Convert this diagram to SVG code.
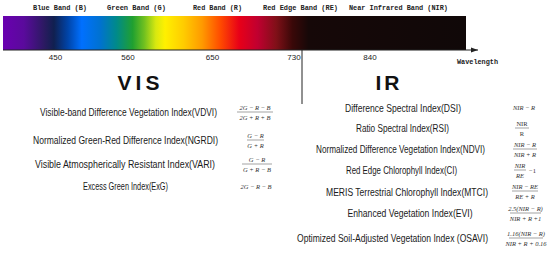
<svg xmlns="http://www.w3.org/2000/svg" width="550" height="253" viewBox="0 0 550 253">
<style>
.band{font-family:"Liberation Mono","DejaVu Sans Mono",monospace;font-weight:bold;font-size:7.5px;fill:#222}
.tick{font-family:"Liberation Sans",Arial,sans-serif;font-size:8px;fill:#222;text-anchor:middle}
.big{font-family:"Liberation Sans",Arial,sans-serif;font-weight:bold;font-size:21px;fill:#111;text-anchor:middle}
.lbl{font-family:"Liberation Sans",Arial,sans-serif;font-size:10.5px;fill:#1a1a1a;text-anchor:middle}
.f{font-family:"Liberation Serif","Times New Roman",serif;font-style:italic;font-size:6.5px;fill:#333;text-anchor:middle}
.fu{font-family:"Liberation Serif","Times New Roman",serif;font-size:6.5px;fill:#333;text-anchor:middle}
.fl{stroke:#444;stroke-width:0.5}
.ln{stroke:#222;stroke-width:1;fill:none}
</style>
<defs>
<linearGradient id="spec" x1="3" y1="0" x2="466" y2="0" gradientUnits="userSpaceOnUse">
<stop offset="0" stop-color="#6a00b0"/>
<stop offset="0.045" stop-color="#5a0a9c"/>
<stop offset="0.09" stop-color="#2a1a60"/>
<stop offset="0.11" stop-color="#102050"/>
<stop offset="0.14" stop-color="#0044a8"/>
<stop offset="0.17" stop-color="#0070ff"/>
<stop offset="0.21" stop-color="#0072d0"/>
<stop offset="0.245" stop-color="#008a8a"/>
<stop offset="0.28" stop-color="#20a030"/>
<stop offset="0.305" stop-color="#70c020"/>
<stop offset="0.33" stop-color="#d8e810"/>
<stop offset="0.35" stop-color="#fff000"/>
<stop offset="0.39" stop-color="#ffcc00"/>
<stop offset="0.43" stop-color="#ff9a00"/>
<stop offset="0.47" stop-color="#ff4a00"/>
<stop offset="0.51" stop-color="#e80018"/>
<stop offset="0.55" stop-color="#c00030"/>
<stop offset="0.59" stop-color="#801018"/>
<stop offset="0.625" stop-color="#3a0808"/>
<stop offset="0.66" stop-color="#160808"/>
<stop offset="1" stop-color="#100808"/>
</linearGradient>
<marker id="ah" markerWidth="8" markerHeight="6" refX="7" refY="3" orient="auto" markerUnits="userSpaceOnUse">
<path d="M0,0.5 L7,3 L0,5.5 Z" fill="#222"/>
</marker>
</defs>
<rect x="0" y="0" width="550" height="253" fill="#fff"/>

<g id="spectrum">
<rect x="3" y="16" width="463" height="34" fill="url(#spec)"/>
</g>

<g id="bands">
<text class="band" x="33" y="10" textLength="54" lengthAdjust="spacingAndGlyphs">Blue Band (B)</text>
<text class="band" x="107" y="10" textLength="59" lengthAdjust="spacingAndGlyphs">Green Band (G)</text>
<text class="band" x="193" y="10" textLength="49" lengthAdjust="spacingAndGlyphs">Red Band (R)</text>
<text class="band" x="263" y="10" textLength="75" lengthAdjust="spacingAndGlyphs">Red Edge Band (RE)</text>
<text class="band" x="349" y="10" textLength="99" lengthAdjust="spacingAndGlyphs">Near Infrared Band (NIR)</text>
</g>

<g id="ticks">
<text class="tick" x="55.5" y="59.5">450</text>
<text class="tick" x="128" y="59.5">560</text>
<text class="tick" x="212.5" y="59.5">650</text>
<text class="tick" x="294" y="59.5">730</text>
<text class="tick" x="370" y="59.5">840</text>
<text class="band" x="457" y="64" textLength="41" lengthAdjust="spacingAndGlyphs">Wavelength</text>
</g>

<g id="connectors">
<line class="ln" x1="3" y1="50" x2="478" y2="50" marker-end="url(#ah)"/>
<line class="ln" x1="302" y1="50" x2="302" y2="104"/>
</g>

<g id="vis-title"><text class="big" x="140.5" y="90" letter-spacing="4">VIS</text></g>
<g id="ir-title"><text class="big" x="389" y="90" letter-spacing="3">IR</text></g>

<g id="vdvi">
<text class="lbl" x="128.5" y="115.5" textLength="177" lengthAdjust="spacingAndGlyphs">Visible-band Difference Vegetation Index(VDVI)</text>
<text class="f" x="255" y="109.5">2G − R − B<tspan x="255" dy="10">2G + R + B</tspan></text>
<line class="fl" x1="237" y1="112" x2="273" y2="112"/>
</g>
<g id="ngrdi">
<text class="lbl" x="125.5" y="143.5" textLength="185" lengthAdjust="spacingAndGlyphs">Normalized Green-Red Difference Index(NGRDI)</text>
<text class="f" x="255.5" y="137.5">G − R<tspan x="255.5" dy="10">G + R</tspan></text>
<line class="fl" x1="247" y1="140" x2="264" y2="140"/>
</g>
<g id="vari">
<text class="lbl" x="125" y="167.5" textLength="180" lengthAdjust="spacingAndGlyphs">Visible Atmospherically Resistant Index(VARI)</text>
<text class="f" x="257" y="161.5">G − R<tspan x="257" dy="10">G + R − B</tspan></text>
<line class="fl" x1="242" y1="164" x2="272" y2="164"/>
</g>
<g id="exg">
<text class="lbl" x="125.5" y="189.5" textLength="85" lengthAdjust="spacingAndGlyphs">Excess Green Index(ExG)</text>
<text class="f" x="256" y="189">2G − R − B</text>
</g>

<g id="dsi">
<text class="lbl" x="403" y="111.5" textLength="116" lengthAdjust="spacingAndGlyphs">Difference Spectral Index(DSI)</text>
<text class="f" x="524" y="110">NIR − R</text>
</g>
<g id="rsi">
<text class="lbl" x="402.5" y="131.5" textLength="93" lengthAdjust="spacingAndGlyphs">Ratio Spectral Index(RSI)</text>
<text class="fu" x="522" y="125.5">NIR<tspan x="522" dy="10">R</tspan></text>
<line class="fl" x1="515" y1="128" x2="529" y2="128"/>
</g>
<g id="ndvi">
<text class="lbl" x="400.5" y="152.5" textLength="169" lengthAdjust="spacingAndGlyphs">Normalized Difference Vegetation Index(NDVI)</text>
<text class="f" x="525" y="146.5">NIR − R<tspan x="525" dy="10">NIR + R</tspan></text>
<line class="fl" x1="513" y1="149" x2="537" y2="149"/>
</g>
<g id="ci">
<text class="lbl" x="401.5" y="173.5" textLength="111" lengthAdjust="spacingAndGlyphs">Red Edge Chlorophyll Index(CI)</text>
<text class="f" x="520" y="167.5">NIR<tspan x="520" dy="10">RE</tspan><tspan class="fu" x="532.5" dy="-5" style="font-style:normal">−1</tspan></text>
<line class="fl" x1="514" y1="170" x2="526" y2="170"/>
</g>
<g id="mtci">
<text class="lbl" x="407" y="195.5" textLength="162" lengthAdjust="spacingAndGlyphs">MERIS Terrestrial Chlorophyll Index(MTCI)</text>
<text class="f" x="525" y="188.5">NIR − RE<tspan x="525" dy="10">RE + R</tspan></text>
<line class="fl" x1="512" y1="191" x2="538" y2="191"/>
</g>
<g id="evi">
<text class="lbl" x="410" y="217" textLength="125" lengthAdjust="spacingAndGlyphs">Enhanced Vegetation Index(EVI)</text>
<text class="f" x="525.5" y="210.5">2.5(NIR − R)<tspan x="525.5" dy="10">NIR + R +1</tspan></text>
<line class="fl" x1="510" y1="213" x2="541" y2="213"/>
</g>
<g id="osavi">
<text class="lbl" x="392.5" y="242" textLength="191" lengthAdjust="spacingAndGlyphs">Optimized Soil-Adjusted Vegetation Index (OSAVI)</text>
<text class="f" x="526" y="235.5">1.16(NIR − R)<tspan x="526" dy="10">NIR + R + 0.16</tspan></text>
<line class="fl" x1="509" y1="238" x2="543" y2="238"/>
</g>
</svg>
